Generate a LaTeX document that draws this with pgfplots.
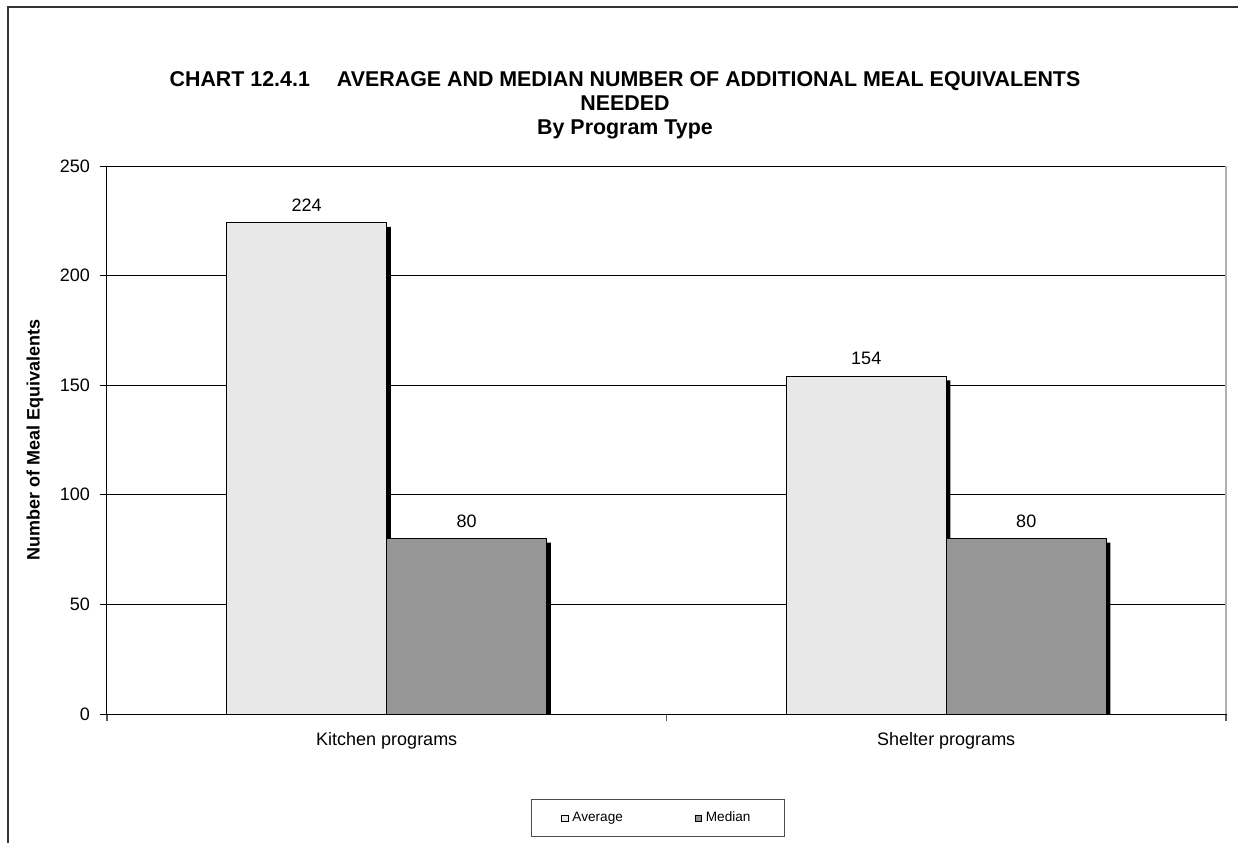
\documentclass[border=0pt]{standalone}
\usepackage{fontspec}
\setmainfont{Liberation Sans}
\usepackage{pgfplots}
\usepackage{pgfplotstable}
\pgfplotsset{compat=1.18}
\usetikzlibrary{shadows}
\definecolor{avgfill}{RGB}{232,232,232}
\definecolor{medfill}{RGB}{150,150,150}
\pgfplotstableread{
x avg med
0 224 80
1 154 80
}\datatable
\begin{document}
\begin{tikzpicture}
\useasboundingbox (0,0) rectangle (619pt,421pt);
\draw[black!80, line width=0.6pt] (4pt,-2pt) -- (4pt,417.5pt) -- (625pt,417.5pt);
\node[font=\bfseries\fontsize{10.7}{12}\selectfont, anchor=base] at (312.5pt,377.5pt) {CHART 12.4.1\hspace{13.5pt}AVERAGE AND MEDIAN NUMBER OF ADDITIONAL MEAL EQUIVALENTS};
\node[font=\bfseries\fontsize{10.7}{12}\selectfont, anchor=base] at (312.5pt,365.5pt) {NEEDED};
\node[font=\bfseries\fontsize{10.7}{12}\selectfont, anchor=base] at (312.5pt,353.5pt) {By Program Type};
\begin{axis}[
  at={(53.5pt,64pt)}, anchor=south west,
  scale only axis, width=559.5pt, height=274pt,
  xmin=-0.5, xmax=1.5, ymin=0, ymax=250,
  ybar=0pt, bar width=80pt,
  /pgf/number format/assume math mode=true,
  tick label style={font=\fontsize{9}{10.8}\selectfont},
  tick align=outside, major tick length=3.5pt,
  xtick pos=left, ytick pos=left,
  xtick={-0.5,0.5,1.5}, xticklabels={},
  x tick style={gray!70!black, line width=0.6pt},
  y tick style={black, line width=0.5pt},
  yticklabel style={xshift=-1.5pt},
  extra x ticks={0,1},
  extra x tick labels={Kitchen programs, Shelter programs},
  extra x tick style={major tick length=0pt, xticklabel style={yshift=-5.5pt}},
  ytick={0,50,100,150,200,250},
  ymajorgrids, grid style={black, line width=0.5pt},
  axis line style={black, line width=0.5pt},
  ylabel={Number of Meal Equivalents},
  every axis y label/.style={at={(axis description cs:-0.0643,0.5)}, rotate=90, anchor=center, font=\bfseries\fontsize{9}{10.8}\selectfont},
  legend columns=2,
  legend style={at={(axis description cs:0.4924,-0.1905)}, anchor=center,
    draw=black!70, line width=0.5pt, font=\fontsize{6.8}{8}\selectfont,
    inner xsep=15pt, inner ysep=4pt,
    /tikz/every even column/.append style={column sep=34pt}},
  after end axis/.code={\draw[gray!60, line width=0.9pt] (rel axis cs:1,0) -- (rel axis cs:1,1);},
]
\addlegendimage{area legend, legend image code/.code={\draw[black, line width=0.3pt, fill=avgfill] (0pt,-1.6pt) rectangle (3.2pt,1.6pt);}}
\addlegendentry{Average}
\addlegendimage{area legend, legend image code/.code={\draw[black, line width=0.3pt, fill=medfill] (0pt,-1.6pt) rectangle (3.2pt,1.6pt);}}
\addlegendentry{Median}
\addplot[fill=avgfill, draw=black, line width=0.5pt, bar shift=-40pt, forget plot,
  drop shadow={shadow xshift=2pt, shadow yshift=-2pt, opacity=1, fill=black, draw=none}]
  table[x=x, y=avg] {\datatable};
\addplot[fill=medfill, draw=black, line width=0.5pt, bar shift=40pt, forget plot,
  drop shadow={shadow xshift=2pt, shadow yshift=-2pt, opacity=1, fill=black, draw=none}]
  table[x=x, y=med] {\datatable};
\addplot[draw=none, fill=none, bar shift=-40pt, forget plot, nodes near coords,
  every node near coord/.append style={font=\fontsize{9}{10.8}\selectfont, text=black, inner sep=0pt, anchor=south, yshift=5.5pt}]
  table[x=x, y=avg] {\datatable};
\addplot[draw=none, fill=none, bar shift=40pt, forget plot, nodes near coords,
  every node near coord/.append style={font=\fontsize{9}{10.8}\selectfont, text=black, inner sep=0pt, anchor=south, yshift=5.5pt}]
  table[x=x, y=med] {\datatable};
\end{axis}
\end{tikzpicture}
\end{document}
